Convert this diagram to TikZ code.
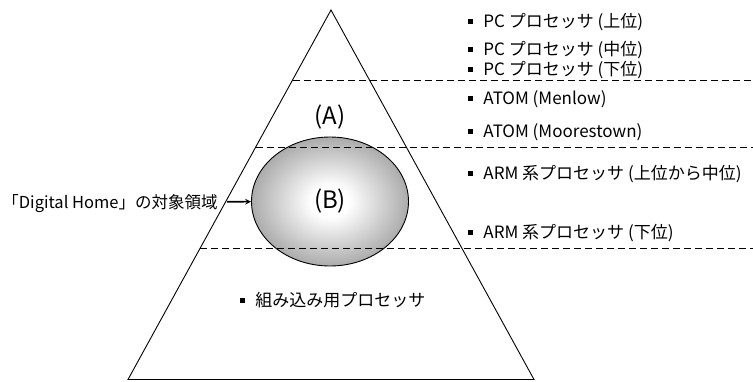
\documentclass[tikz,border=0pt]{standalone}
\usepackage{fontspec}
\setmainfont{Noto Sans CJK JP}
\usetikzlibrary{shapes.geometric,positioning}

\pgfdeclareradialshading{homeshade}{\pgfpoint{0bp}{0bp}}{color(0bp)=(white); color(6bp)=(white); color(50bp)=(black!76); color(100bp)=(black!76)}

\begin{document}
\begin{tikzpicture}[x=1pt,y=-1pt,->,>=stealth,line width=0.9pt,
    words/.style={inner sep=0pt,text height=12pt,text depth=0pt,font=\fontsize{17}{19}\selectfont},
    item/.style={words,anchor=west,
        label={[rectangle,fill,inner sep=0pt,minimum size=5pt,xshift=-9.5pt]left:{}}},
    zone/.style={-,dash pattern=on 7pt off 4pt},
    tag/.style={inner sep=0pt,font=\fontsize{24}{26}\selectfont}]

                \useasboundingbox (0,0) rectangle (753,381);

                % pyramid
                \coordinate (top) at (331,10);
                \coordinate (bl) at (128,379.5);
                \coordinate (br) at (534,379.5);
                \draw[-] (top) -- (br) -- (bl) -- cycle;

                \node[ellipse, draw, minimum width=157pt, minimum height=129pt, shading=homeshade, tag] (2) at (330,201.5) {(B)};
                \node[tag] (1) at (330,117) {(A)};

                \draw[zone] (292.5,80) -- (753,80);
                \draw[zone] (255.7,147) -- (753,147);
                \draw[zone] (200.2,248) -- (753,248);

                \node[words, anchor=east, font=\fontsize{16.5}{19}\selectfont] (3) at (218,202) {「Digital Home」の対象領域};

                \node[item] (4) at (483,21) {PC プロセッサ (上位)};
                \node[item] (5) at (483,49) {PC プロセッサ (中位)};
                \node[item] (6) at (483,69) {PC プロセッサ (下位)};
                \node[item] (7) at (483,98) {ATOM (Menlow)};
                \node[item] (8) at (483,131) {ATOM (Moorestown)};
                \node[item] (9) at (483,173) {ARM 系プロセッサ (上位から中位)};
                \node[item] (10) at (483,232) {ARM 系プロセッサ (下位)};
                \node[item] (11) at (255,300) {組み込み用プロセッサ};

                \draw[line width=1.6pt, shorten <=9pt] (3) -- (2);
            \end{tikzpicture}
\end{document}
